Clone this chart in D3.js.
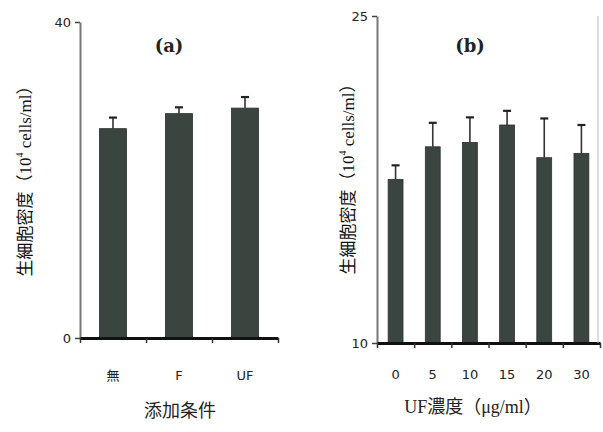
<!DOCTYPE html>
<html>
<head>
<meta charset="utf-8">
<script src="https://cdn.jsdelivr.net/npm/d3@7"></script>
<style>
  body { margin: 0; background: #fff; }
  svg text { fill: #222; }
</style>
</head>
<body>
<div id="chart"></div>
<script>
// panel (a)
var catsA = ["無", "F", "UF"];
var valsA = [26.5, 28.4, 29.1];
var errA = [1.4, 0.8, 1.4];
var yTicksA = [0, 40];

// panel (b)
var catsB = ["0", "5", "10", "15", "20", "30"];
var valsB = [17.5, 19.0, 19.2, 20.0, 18.5, 18.7];
var errB = [0.65, 1.1, 1.15, 0.65, 1.8, 1.3];
var yTicksB = [10, 25];

var width = 603, height = 432;
var barColor = "#3b4540";
var serif = "'DejaVu Serif', 'Noto Sans CJK JP', serif";
var cjk = "'Liberation Serif', 'Noto Sans CJK JP', serif";

var svg = d3.select("#chart").append("svg")
  .attr("width", width)
  .attr("height", height);

function panel(opt) {
  var x = d3.scaleBand()
    .domain(opt.cats)
    .range([opt.x0, opt.x1])
    .paddingInner(opt.pad)
    .paddingOuter(opt.pad / 2);

  var y = d3.scaleLinear()
    .domain(opt.domain)
    .range([opt.y0, opt.y1]);

  var g = svg.append("g");

  // y axis
  var yAxis = g.append("g")
    .attr("transform", "translate(" + opt.x0 + ",0)")
    .call(d3.axisLeft(y).tickValues(opt.yTicks).tickSize(5).tickSizeOuter(0));
  yAxis.select(".domain").attr("stroke", "#777").attr("stroke-width", 2);
  yAxis.selectAll(".tick line").attr("stroke", "#444").attr("stroke-width", 1.5);
  yAxis.selectAll(".tick text")
    .attr("x", -9)
    .style("font-family", "'DejaVu Sans', sans-serif")
    .style("font-size", "13px")
    .style("fill", "#222");

  // bars
  g.selectAll("rect.bar")
    .data(opt.vals)
    .enter().append("rect")
      .attr("class", "bar")
      .attr("x", function(d, i) { return x(opt.cats[i]); })
      .attr("width", x.bandwidth())
      .attr("y", function(d) { return y(d); })
      .attr("height", function(d) { return y(opt.domain[0]) - y(d); })
      .style("fill", barColor)
      .style("stroke", "#2a302c")
      .style("stroke-width", 0.8);

  // error bars (upper only)
  var eb = g.selectAll("g.err")
    .data(opt.vals)
    .enter().append("g")
      .attr("class", "err");
  eb.append("line")
    .attr("x1", function(d, i) { return x(opt.cats[i]) + x.bandwidth() / 2; })
    .attr("x2", function(d, i) { return x(opt.cats[i]) + x.bandwidth() / 2; })
    .attr("y1", function(d) { return y(d); })
    .attr("y2", function(d, i) { return y(d + opt.err[i]); })
    .style("stroke", "#333")
    .style("stroke-width", 1.6);
  eb.append("line")
    .attr("x1", function(d, i) { return x(opt.cats[i]) + x.bandwidth() / 2 - 4; })
    .attr("x2", function(d, i) { return x(opt.cats[i]) + x.bandwidth() / 2 + 4; })
    .attr("y1", function(d, i) { return y(d + opt.err[i]); })
    .attr("y2", function(d, i) { return y(d + opt.err[i]); })
    .style("stroke", "#222")
    .style("stroke-width", 2.2);

  // x axis: ticks at band boundaries
  var bounds = opt.cats.map(function(c) { return x(c) - x.step() * x.paddingInner() / 2; });
  bounds.push(opt.x1);
  var xb = d3.scaleLinear().domain([opt.x0, opt.x1]).range([opt.x0, opt.x1]);
  var xAxis = g.append("g")
    .attr("transform", "translate(0," + opt.y0 + ")")
    .call(d3.axisBottom(xb).tickValues(bounds).tickSize(5).tickSizeOuter(0).tickFormat(""));
  xAxis.select(".domain").attr("stroke", "#111").attr("stroke-width", 3);
  xAxis.selectAll(".tick line").attr("stroke", "#333").attr("stroke-width", 1.5);

  // category labels
  g.selectAll("text.cat")
    .data(opt.cats)
    .enter().append("text")
      .attr("class", "cat")
      .attr("x", function(d) { return x(d) + x.bandwidth() / 2; })
      .attr("y", opt.catY)
      .attr("text-anchor", "middle")
      .attr("dominant-baseline", "middle")
      .style("font-family", "'DejaVu Sans', 'Noto Sans CJK JP', sans-serif")
      .style("font-size", "13px")
      .text(function(d) { return d; });

  // x title
  g.append("text")
    .attr("x", opt.xTitleX)
    .attr("y", opt.xTitleY)
    .attr("text-anchor", "middle")
    .attr("dominant-baseline", "middle")
    .style("font-family", cjk)
    .style("font-size", "18px")
    .text(opt.xTitle);

  // y title
  var yt = g.append("text")
    .attr("transform", "translate(" + opt.yTitleX + "," + opt.yTitleY + ") rotate(-90)")
    .attr("text-anchor", "middle")
    .attr("dominant-baseline", "middle")
    .style("font-family", cjk)
    .style("font-size", "17px")
    .style("fill", "#111");
  yt.append("tspan").text("生細胞密度（10");
  yt.append("tspan").attr("dy", -6).style("font-size", "10px").text("4");
  yt.append("tspan").attr("dy", 6).text(" cells/ml）");

  // panel label
  g.append("text")
    .attr("x", opt.labelX)
    .attr("y", 47)
    .attr("text-anchor", "middle")
    .attr("dominant-baseline", "middle")
    .style("font-family", serif)
    .style("font-weight", "bold")
    .style("font-size", "18px")
    .text(opt.label);

  return g;
}

panel({
  cats: catsA, vals: valsA, err: errA, yTicks: yTicksA,
  domain: [0, 40], pad: 0.59,
  x0: 80, x1: 278, y0: 338, y1: 22,
  catY: 376, xTitle: "添加条件", xTitleX: 180, xTitleY: 413,
  yTitleX: 27, yTitleY: 177, label: "(a)", labelX: 169
});

panel({
  cats: catsB, vals: valsB, err: errB, yTicks: yTicksB,
  domain: [10, 25], pad: 0.6,
  x0: 377, x1: 600, y0: 343, y1: 16,
  catY: 375, xTitle: "UF濃度（μg/ml）", xTitleX: 473, xTitleY: 409,
  yTitleX: 350, yTitleY: 175, label: "(b)", labelX: 470
});

// faint right frame line of panel (b)
svg.append("line")
  .attr("x1", 598).attr("x2", 598)
  .attr("y1", 16).attr("y2", 343)
  .style("stroke", "#bbb")
  .style("stroke-width", 1);
</script>
</body>
</html>
